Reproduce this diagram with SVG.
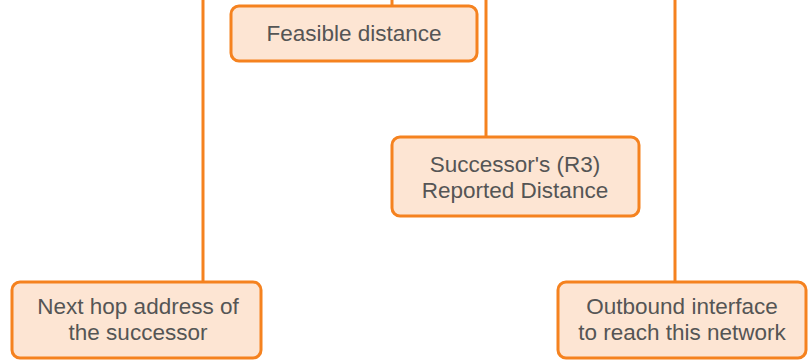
<svg xmlns="http://www.w3.org/2000/svg" width="808" height="361" viewBox="0 0 808 361">
  <style>
    .box { fill: #fde5d3; stroke: #f5821f; stroke-width: 3; }
    .wire { fill: none; stroke: #f5821f; stroke-width: 3; }
    .lbl { font-family: "Liberation Sans", Arial, sans-serif; font-size: 22.5px; fill: #555555; text-anchor: middle; }
  </style>
  <rect width="808" height="361" fill="#ffffff"/>
  <g id="connectors">
    <line class="wire" x1="203" y1="0" x2="203" y2="282"/>
    <line class="wire" x1="392" y1="0" x2="392" y2="6"/>
    <line class="wire" x1="486" y1="0" x2="486" y2="137"/>
    <line class="wire" x1="675" y1="0" x2="675" y2="282"/>
  </g>
  <g id="feasible-distance">
    <rect class="box" x="231" y="6" width="246" height="55" rx="8"/>
    <text class="lbl" x="354" y="41">Feasible distance</text>
  </g>
  <g id="reported-distance">
    <rect class="box" x="392" y="137" width="247" height="79" rx="8"/>
    <text class="lbl" x="515" y="172">Successor's (R3)</text>
    <text class="lbl" x="515" y="198">Reported Distance</text>
  </g>
  <g id="next-hop">
    <rect class="box" x="12" y="282" width="249" height="76" rx="8"/>
    <text class="lbl" x="138" y="314">Next hop address of</text>
    <text class="lbl" x="138" y="340">the successor</text>
  </g>
  <g id="outbound-interface">
    <rect class="box" x="558" y="282" width="248" height="76" rx="8"/>
    <text class="lbl" x="682" y="314">Outbound interface</text>
    <text class="lbl" x="682" y="340">to reach this network</text>
  </g>
</svg>
